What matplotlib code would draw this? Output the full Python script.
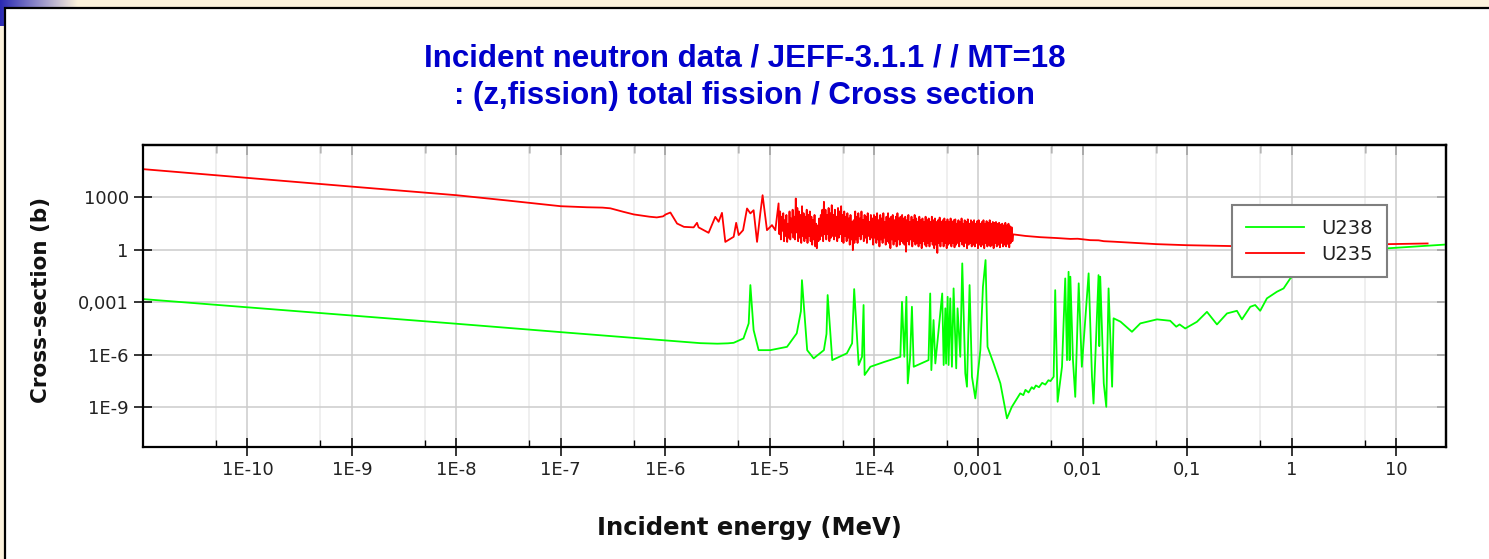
import numpy as np
import matplotlib
matplotlib.use('Agg')
import matplotlib.pyplot as plt
from matplotlib.patches import Rectangle
from matplotlib.colors import LinearSegmentedColormap
from matplotlib.ticker import NullFormatter, NullLocator

# values, stored as log10(E / MeV) and log10(sigma / b)

# U235 : 1/v part and first resolved resonances
u235_loge = [-11.0, -10.0, -9.0, -8.0, -7.5, -7.0, -6.75, -6.6, -6.525, -6.40,
             -6.30, -6.15, -6.08, -6.02, -5.995, -5.95, -5.92, -5.886, -5.82, -5.727,
             -5.695, -5.68, -5.584, -5.52, -5.488, -5.456, -5.424, -5.344, -5.32, -5.296,
             -5.254, -5.216, -5.184, -5.153, -5.12, -5.089, -5.067, -5.025, -4.977, -4.945]
u235_logs = [4.62, 4.12, 3.62, 3.13, 2.82, 2.50, 2.44, 2.42, 2.38, 2.18,
             2.03, 1.90, 1.86, 1.92, 2.03, 2.14, 1.85, 1.51, 1.32, 1.29,
             1.55, 1.29, 0.98, 1.89, 1.61, 2.12, 0.46, 0.75, 1.55, 0.85,
             1.13, 2.37, 2.09, 2.27, 0.46, 2.09, 3.13, 1.13, 1.42, 1.13]

# U235 : dense resonance band, sampled evenly in log E between band_lo and band_hi
band_lo, band_hi = -4.914, -2.675
u235_band = [2.66, 0.9, 2.2, 0.6, 1.9, 1.1, 2.1, 0.5, 1.7, 0.8,
             2.0, 0.46, 1.5, 0.7, 2.2, 0.6, 1.8, 1.0, 2.3, 0.7,
             1.9, 0.6, 2.94, 1.0, 2.4, 0.5, 2.2, 0.7, 2.0, 0.4,
             2.5, 0.8, 2.1, 0.5, 1.9, 0.7, 2.3, 0.4, 2.0, 0.8,
             2.2, 0.5, 1.9, 0.3, 1.7, 0.6, 2.0, 0.2, 1.5, 0.1,
             1.4, 0.5, 1.8, 0.6, 2.0, 0.8, 2.3, 0.5, 2.75, 0.9,
             2.3, 0.6, 2.0, 0.9, 2.4, 0.5, 2.1, 0.7, 2.56, 0.8,
             2.0, 0.6, 2.3, 0.8, 1.9, 0.5, 2.4, 0.7, 2.2, 0.9,
             2.5, 0.5, 2.0, 0.4, 2.2, 0.8, 1.9, 0.5, 2.1, 0.7,
             1.8, 0.3, 2.0, 0.6, 1.6, -0.01, 1.7, 0.4, 2.2, 0.6,
             1.9, 0.4, 2.1, 0.8, 1.8, 0.6, 2.2, 0.9, 1.7, 0.5,
             2.0, 0.7, 1.9, 0.4, 2.1, 0.8, 1.6, 0.6, 2.0, 0.7,
             1.8, 0.3, 2.0, 0.7, 1.9, 0.4, 2.1, 0.6, 1.7, 0.2,
             2.0, 0.6, 1.8, 0.4, 2.1, 0.7, 1.6, 0.3, 1.9, 0.5,
             2.1, 0.4, 1.8, 0.1, 1.9, 0.6, 2.0, 0.3, 1.7, 0.5,
             1.9, 0.2, 2.1, 0.6, 1.8, 0.3, 1.9, 0.5, 2.0, 0.4,
             1.8, 0.3, 1.9, -0.1, 1.7, 0.5, 2.0, 0.3, 1.6, 0.6,
             1.9, 0.2, 1.7, 0.5, 2.0, 0.3, 1.8, 0.4, 1.6, 0.2,
             1.9, 0.4, 1.7, 0.1, 1.8, 0.5, 1.6, 0.3, 1.9, 0.2,
             1.7, 0.4, 1.8, 0.2, 1.6, 0.5, 1.9, 0.3, 1.7, 0.1,
             1.8, 0.3, 1.6, -0.17, 1.7, 0.4, 1.85, 0.2, 1.6, 0.5,
             1.7, 0.2, 1.8, 0.4, 1.6, 0.1, 1.75, 0.3, 1.6, 0.4,
             1.8, 0.2, 1.6, 0.4, 1.7, 0.15, 1.75, 0.3, 1.5, 0.4,
             1.7, 0.2, 1.6, 0.5, 1.8, 0.3, 1.5, 0.2, 1.7, 0.4,
             1.6, 0.1, 1.75, 0.3, 1.5, 0.4, 1.7, 0.2, 1.6, 0.3,
             1.7, 0.2, 1.5, 0.4, 1.65, 0.1, 1.7, 0.3, 1.5, 0.2,
             1.6, 0.3, 1.7, 0.1, 1.5, 0.4, 1.65, 0.2, 1.55, 0.3,
             1.7, 0.2, 1.5, 0.3, 1.6, 0.1, 1.55, 0.4, 1.6, 0.2,
             1.5, 0.3, 1.55, 0.15, 1.45, 0.4, 1.5, 0.2, 1.4, 0.3,
             1.55, 0.2, 1.4, 0.35, 1.5, 0.15, 1.35, 0.4, 1.3, 0.5]

# U235 : smooth high energy part
u235_tail_loge = [-2.667, -2.55, -2.41, -2.25, -2.12, -2.05, -1.93, -1.85, -1.80, -1.70,
                  -1.50, -1.29, -1.0, -0.56, -0.2, 0.0, 0.3, 0.6, 0.911, 1.301]
u235_tail_logs = [0.89, 0.80, 0.73, 0.68, 0.63, 0.64, 0.56, 0.55, 0.50, 0.47,
                  0.40, 0.33, 0.27, 0.22, 0.17, 0.12, 0.15, 0.26, 0.33, 0.37]

# U238
u238_loge = [-11.0, -10.0, -9.0, -8.0, -7.0, -6.0, -5.663, -5.5, -5.40, -5.344,
             -5.25, -5.20, -5.184, -5.153, -5.105, -4.993, -4.90, -4.833, -4.74, -4.70,
             -4.69, -4.64, -4.578, -4.48, -4.455, -4.444, -4.40, -4.26, -4.21, -4.19,
             -4.147, -4.115, -4.10, -4.09, -4.035, -3.90, -3.748, -3.732, -3.71, -3.69,
             -3.677, -3.655, -3.637, -3.62, -3.478, -3.462, -3.451, -3.43, -3.413, -3.347,
             -3.333, -3.317, -3.31, -3.295, -3.286, -3.27, -3.254, -3.238, -3.213, -3.2,
             -3.174, -3.155, -3.126, -3.11, -3.085, -3.062, -3.030, -2.982, -2.957, -2.932,
             -2.913, -2.855, -2.79, -2.727, -2.68, -2.60, -2.57, -2.55, -2.52, -2.49,
             -2.47, -2.45, -2.42, -2.39, -2.36, -2.33, -2.31, -2.28, -2.265, -2.242,
             -2.20, -2.169, -2.152, -2.137, -2.127, -2.12, -2.095, -2.073, -2.04, -2.01,
             -1.945, -1.913, -1.898, -1.85, -1.843, -1.834, -1.80, -1.776, -1.754, -1.72,
             -1.706, -1.64, -1.53, -1.45, -1.29, -1.164, -1.106, -1.074, -1.02, -0.908,
             -0.812, -0.716, -0.62, -0.525, -0.477, -0.397, -0.35, -0.302, -0.238, -0.142,
             -0.078, -0.014, 0.05, 0.15, 0.3, 0.5, 0.7, 0.911, 1.479]
u238_logs = [-2.81, -3.28, -3.75, -4.22, -4.70, -5.17, -5.33, -5.36, -5.34, -5.31,
             -5.06, -4.2, -2.01, -4.58, -5.73, -5.73, -5.62, -5.54, -4.77, -3.5,
             -1.73, -5.73, -6.2, -5.73, -4.8, -2.58, -6.30, -5.91, -5.34, -2.24,
             -6.58, -6.11, -3.15, -7.15, -6.68, -6.40, -6.11, -2.97, -6.11, -2.68,
             -7.63, -6.2, -3.25, -6.68, -6.30, -2.49, -6.87, -4.01, -6.49, -2.49,
             -6.58, -3.34, -6.5, -2.68, -6.58, -2.77, -6.68, -2.2, -6.77, -3.34,
             -6.11, -0.77, -7.06, -7.82, -2.01, -7.25, -8.49, -5.73, -2.11, -0.58,
             -5.54, -6.49, -7.63, -9.63, -8.97, -8.2, -8.3, -8.0, -8.15, -7.85,
             -7.95, -7.75, -7.85, -7.6, -7.7, -7.45, -7.5, -7.25, -2.30, -8.68,
             -6.68, -1.63, -6.30, -1.25, -6.3, -1.53, -6.30, -8.40, -1.91, -6.68,
             -1.34, -7.25, -8.78, -1.44, -5.5, -1.53, -7.63, -8.97, -2.20, -7.82,
             -3.91, -4.1, -4.68, -4.2, -3.97, -4.05, -4.39, -4.26, -4.49, -4.11,
             -3.54, -4.26, -3.63, -3.48, -3.97, -3.25, -3.15, -3.48, -2.77, -2.39,
             -2.2, -1.63, -1.31, -0.5, -0.25, -0.15, 0.0, 0.09, 0.31]

xticks = [1e-10, 1e-9, 1e-8, 1e-7, 1e-6, 1e-5, 1e-4, 1e-3, 1e-2, 1e-1, 1, 10]
xtick_labels = ['1E-10', '1E-9', '1E-8', '1E-7', '1E-6', '1E-5', '1E-4',
                '0,001', '0,01', '0,1', '1', '10']
xminor = [5e-11, 5e-10, 5e-9, 5e-8, 5e-7, 5e-6, 5e-5, 5e-4, 5e-3, 5e-2, 5e-1, 5]
yticks = [1e-9, 1e-6, 1e-3, 1, 1000]
ytick_labels = ['1E-9', '1E-6', '0,001', '1', '1000']

W, H = 1489, 559
fig = plt.figure(figsize=(W / 100, H / 100), dpi=100)
fig.patch.set_facecolor('#fcf2dc')

# slide decoration: blue corner gradient + white panel with black border
gax = fig.add_axes([0, 1 - 26 / H, 78 / W, 26 / H])
gax.imshow(np.linspace(0, 1, 200)[None, :], aspect='auto',
           cmap=LinearSegmentedColormap.from_list('corner', ['#2a2ab4', '#fcf2dc']))
gax.axis('off')
gax.set_zorder(-3)
panel = Rectangle((5.3 / W, -0.05), 1.1, 1 - 7.7 / H + 0.05, transform=fig.transFigure,
                  facecolor='white', edgecolor='black', lw=1.6, zorder=-2)
fig.add_artist(panel)

ax = fig.add_axes([143 / W, 112 / H, 1303 / W, 302 / H])
ax.set_xscale('log')
ax.set_yscale('log')

red_e = np.concatenate([u235_loge, np.linspace(band_lo, band_hi, len(u235_band)), u235_tail_loge])
red_s = np.concatenate([u235_logs, u235_band, u235_tail_logs])

ax.plot(10.0 ** np.array(u238_loge), 10.0 ** np.array(u238_logs), color='#00ff00', lw=1.3, label='U238')
ax.plot(10.0 ** red_e, 10.0 ** red_s, color='#ff0000', lw=1.3, label='U235')

ax.set_xlim(1e-11, 30)
ax.set_ylim(5.4e-12, 1e6)

ax.set_xticks(xticks, xtick_labels)
ax.set_xticks(xminor, minor=True)
ax.xaxis.set_minor_formatter(NullFormatter())
ax.set_yticks(yticks, ytick_labels)
ax.yaxis.set_minor_locator(NullLocator())
ax.tick_params(axis='both', which='major', direction='inout', length=13.5, width=1.1,
               labelsize=13, pad=3.5, labelcolor='#222222')
ax.tick_params(axis='x', which='minor', direction='in', length=5, width=1.0)

top = ax.secondary_xaxis('top')
top.set_xticks(xticks)
top.set_xticks(xminor, minor=True)
top.xaxis.set_major_formatter(NullFormatter())
top.xaxis.set_minor_formatter(NullFormatter())
top.tick_params(which='major', direction='in', length=7.2, width=1.1)
top.tick_params(which='minor', direction='in', length=5.5, width=1.0)
right = ax.secondary_yaxis('right')
right.set_yticks(yticks)
right.yaxis.set_major_formatter(NullFormatter())
right.yaxis.set_minor_locator(NullLocator())
right.tick_params(direction='in', length=6.5, width=1.1)
for sec in (top, right):
    for sp in sec.spines.values():
        sp.set_linewidth(1.6)

ax.set_axisbelow(True)
ax.grid(True, which='major', color='#cccccc', lw=1.1)
ax.grid(True, which='minor', axis='x', color='#ebebeb', lw=1.1)
for sp in ax.spines.values():
    sp.set_linewidth(1.6)

ax.set_xlabel('Incident energy (MeV)', fontsize=17.5, fontweight='bold', color='#111111')
ax.xaxis.set_label_coords(0.4655, -0.228)
ax.set_ylabel('Cross-section (b)', fontsize=15.5, fontweight='bold', color='#111111', va='center')
ax.yaxis.set_label_coords(-0.0779, 0.488)

fig.text(0.5003, (H - 66.5) / H, 'Incident neutron data / JEFF-3.1.1 / / MT=18',
         ha='center', va='baseline', fontsize=22.5, fontweight='bold', color='#0000cc',
         family='Liberation Sans')
fig.text(0.5003, (H - 104) / H, ': (z,fission) total fission / Cross section',
         ha='center', va='baseline', fontsize=22.5, fontweight='bold', color='#0000cc',
         family='Liberation Sans')

leg = ax.legend(loc='upper right', bbox_to_anchor=(0.9547, 0.801), borderaxespad=0,
                fontsize=14, handlelength=3.0, handletextpad=0.9, labelspacing=0.35,
                borderpad=0.7, fancybox=False, framealpha=1, edgecolor='#7f7f7f')
leg.get_frame().set_linewidth(1.5)
for t in leg.get_texts():
    t.set_color('#222222')

fig.savefig('out.png', dpi=100, facecolor=fig.get_facecolor())
